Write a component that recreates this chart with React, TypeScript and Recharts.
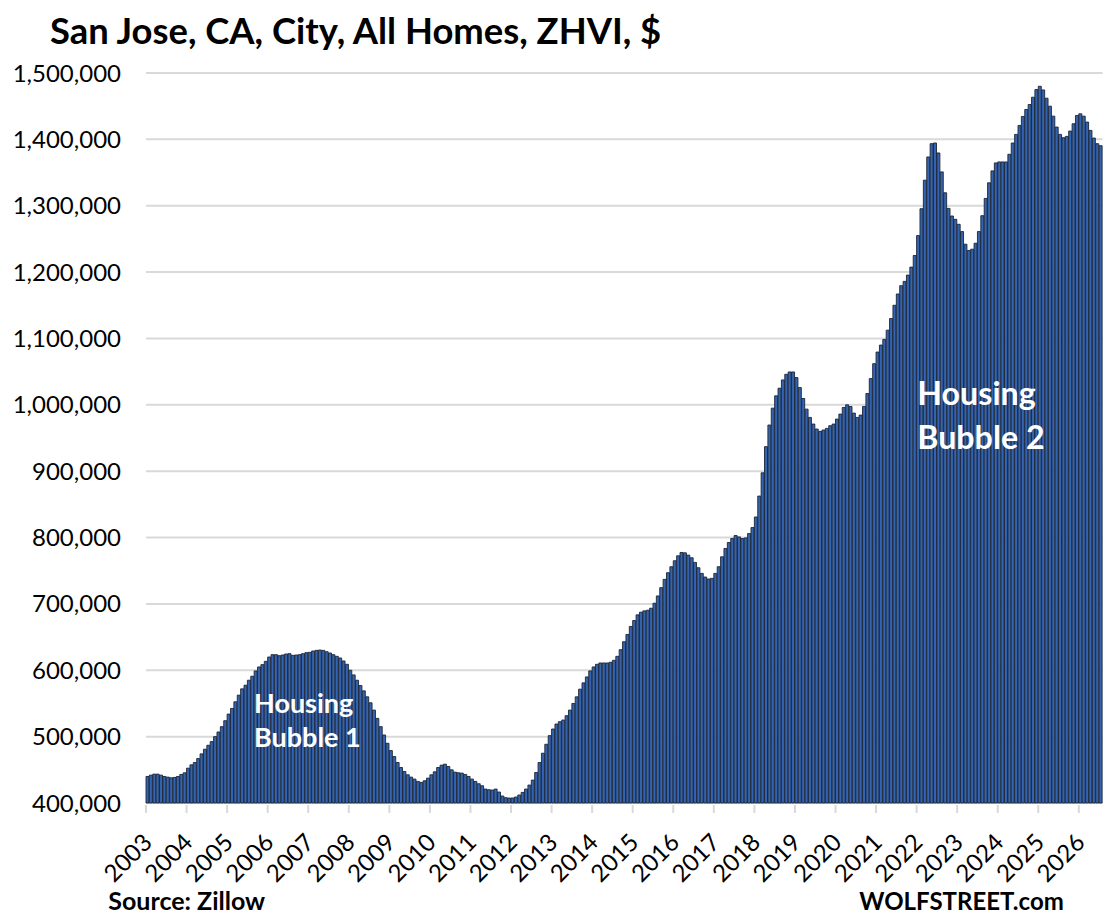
import React from 'react';
import { BarChart, Bar, XAxis, YAxis, CartesianGrid } from 'recharts';

// Zillow ZHVI, San Jose city, all homes, monthly, in $1,000s
const YEARS = [
  '2003', '2004', '2005', '2006', '2007', '2008', '2009', '2010', '2011', '2012', '2013', '2014',
  '2015', '2016', '2017', '2018', '2019', '2020', '2021', '2022', '2023', '2024', '2025', '2026',
];

const ZHVI_BY_YEAR: number[][] = [
  [440, 442, 443.5, 443.5, 442, 440, 439, 438, 438.5, 440, 443, 445.5],
  [452.5, 457.5, 461, 467, 474, 481, 487, 492.5, 500, 507, 515, 524],
  [534, 542.5, 552.5, 562.5, 572, 577.5, 585, 591, 599, 605, 608.5, 613.5],
  [620, 623.5, 623.5, 622, 623, 624.5, 625, 622.5, 623, 623.5, 625, 626.5],
  [627, 629, 630, 630.5, 630, 628, 626, 623.5, 621, 618.5, 614, 609],
  [600, 593, 585, 577, 569, 560, 551, 540, 527.5, 515, 502.5, 490],
  [479, 470, 461, 453.5, 447.5, 442.5, 439, 436, 432.5, 431, 433.5, 437.5],
  [442.5, 447, 453.5, 457, 458.5, 455, 450, 446.5, 445.5, 445, 443, 440],
  [436, 432.5, 429, 426, 421, 420, 419.5, 421, 416.5, 410.5, 408, 407.5],
  [407.5, 409, 412, 416, 421, 427, 434.5, 446, 461, 475, 488.5, 501.5],
  [511.5, 519, 522.5, 525, 531.5, 540, 550, 560, 571.5, 581, 590, 599],
  [605, 609, 611, 611, 611, 612, 615, 621, 631, 643, 654, 666],
  [675, 683.5, 687.5, 689.5, 690.5, 693.5, 701, 712, 724.5, 737, 747, 756],
  [765, 772.5, 777.5, 777, 773.5, 769.5, 762.5, 754.5, 746, 740.5, 737.5, 738.5],
  [746, 756, 771, 783.5, 792.5, 798.5, 803, 801, 798.5, 799.5, 806, 815],
  [831, 862.5, 897.5, 937, 969.5, 995, 1013.5, 1025, 1037.5, 1046, 1049.5, 1049.5],
  [1041, 1026, 1009.5, 993.5, 981, 971, 963.5, 960, 962, 964.5, 968.5, 971],
  [978.5, 986, 996, 1000, 997.5, 987.5, 981, 984.5, 997.5, 1017, 1039.5, 1062],
  [1079.5, 1090, 1098.5, 1112.5, 1130, 1150, 1167, 1179.5, 1186, 1195.5, 1207.5, 1225],
  [1255, 1295.5, 1338.5, 1373.5, 1393.5, 1394.5, 1379.5, 1351, 1319.5, 1296, 1284.5, 1279.5],
  [1272, 1261, 1242, 1232.5, 1234.5, 1243.5, 1261, 1285, 1311, 1334.5, 1352.5, 1364.5],
  [1366, 1366, 1366, 1377.5, 1394.5, 1407.5, 1421, 1434.5, 1445, 1452.5, 1463.5, 1475],
  [1480, 1474.5, 1462, 1450, 1435, 1418.5, 1407.5, 1402.5, 1404.5, 1412.5, 1423.5, 1436],
  [1438.5, 1435, 1426, 1413.5, 1402, 1393.5, 1390.5],
];

const Y_TICKS = [400000, 500000, 600000, 700000, 800000, 900000, 1000000, 1100000, 1200000, 1300000, 1400000, 1500000];

const data = ZHVI_BY_YEAR.flatMap((row, yi) =>
  row.map((v, m) => ({ month: `${YEARS[yi]}-${m + 1}`, value: v * 1000 }))
);
const yearTicks = YEARS.map((y) => `${y}-1`);

const W = 1114;
const H = 919;
const MARGIN = { top: 73, right: 11.5, left: 0, bottom: 0 };
const Y_AXIS_W = 146;
const X_AXIS_H = 116;
const FONT = 'Lato, "Open Sans", sans-serif';

// ticks sit on the boundary between Dec and Jan, not mid-bar
const HALF_BAND = (W - MARGIN.right - Y_AXIS_W) / data.length / 2;

const YearTick = ({ x, y, payload }: any) => {
  const left = x - HALF_BAND;
  const ax = left + 7.5;
  const ay = y + 41;
  return (
    <g>
      <line x1={left} x2={left} y1={y + 2} y2={y + 10} stroke="#D9D9D9" strokeWidth={2} />
      <text
        x={ax}
        y={ay}
        textAnchor="end"
        transform={`rotate(-45 ${ax} ${ay})`}
        fontFamily={FONT}
        fontSize={24}
        fill="#000"
      >
        {String(payload.value).slice(0, 4)}
      </text>
    </g>
  );
};

export default function App() {
  return (
    <div style={{ position: 'relative', width: W, height: H, margin: -8, background: '#fff' }}>
      <BarChart width={W} height={H} data={data} margin={MARGIN} barCategoryGap={0} barGap={0}>
        <CartesianGrid vertical={false} stroke="#D9D9D9" strokeWidth={2} />
        <XAxis
          dataKey="month"
          ticks={yearTicks}
          interval={0}
          height={X_AXIS_H}
          axisLine={false}
          tickLine={false}
          tickSize={0}
          tickMargin={0}
          tick={<YearTick />}
        />
        <YAxis
          domain={[400000, 1500000]}
          ticks={Y_TICKS}
          width={Y_AXIS_W}
          axisLine={false}
          tickLine={false}
          tickSize={0}
          tickMargin={25}
          tickFormatter={(v: number) => v.toLocaleString('en-US')}
          tick={{ fill: '#000', fontSize: 24, fontFamily: FONT }}
        />
        <Bar dataKey="value" fill="#3463AF" stroke="#1B2536" strokeWidth={0.9} isAnimationActive={false} />
      </BarChart>

      <svg width={W} height={H} style={{ position: 'absolute', left: 0, top: 0, pointerEvents: 'none' }}>
        <text x={50} y={44.3} fontFamily={FONT} fontWeight={700} fontSize={36.4} fill="#000">
          San Jose, CA, City, All Homes, ZHVI, $
        </text>

        <g fontFamily={FONT} fontWeight={700} fontSize={27} fill="#fff">
          <text x={254} y={712.7}>Housing</text>
          <text x={254} y={747.3}>Bubble 1</text>
        </g>
        <g fontFamily={FONT} fontWeight={700} fontSize={32.2} fill="#fff">
          <text x={917.3} y={405}>Housing</text>
          <text x={917.3} y={448.5}>Bubble 2</text>
        </g>

        <g fontFamily={FONT} fontWeight={700} fontSize={25} fill="#000">
          <text x={108.3} y={909.5}>Source: Zillow</text>
        </g>
        <g fontFamily={FONT} fontWeight={700} fontSize={24} fill="#000">
          <text x={859.3} y={910}>WOLFSTREET.com</text>
        </g>
      </svg>
    </div>
  );
}
